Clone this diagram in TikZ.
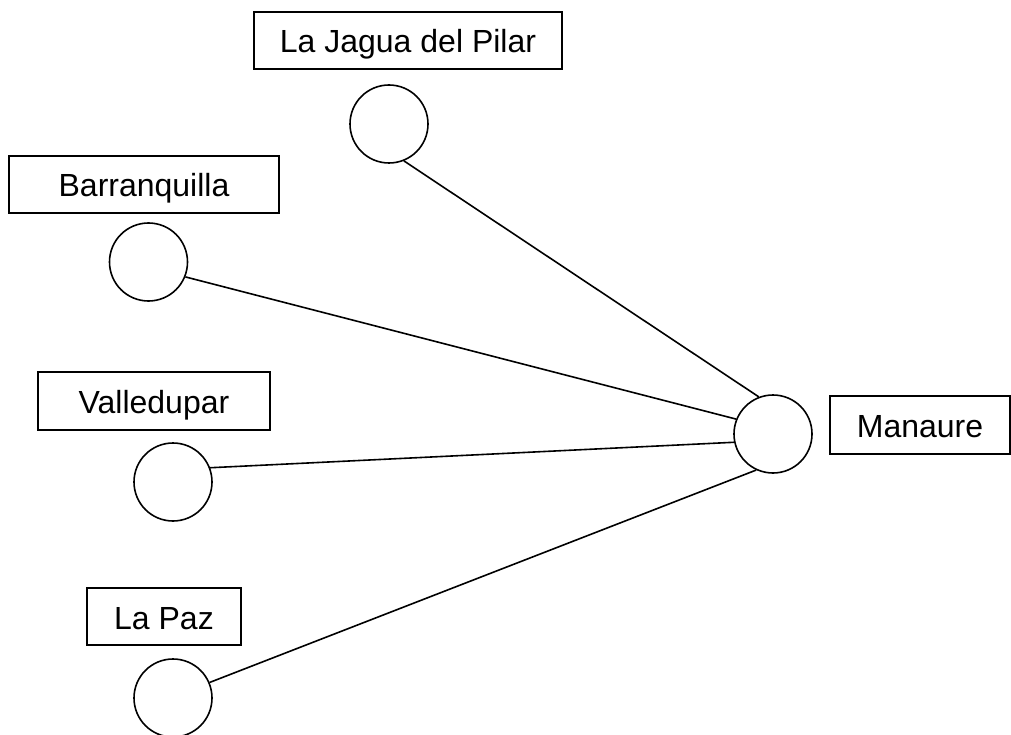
\documentclass[tikz,border=0pt]{standalone}
\usepackage{fontspec}
\setmainfont{Liberation Sans}
\begin{document}
\begin{tikzpicture}[x=1pt,y=-1pt,
  lbl/.style={draw,line width=1.6pt,inner sep=0pt,text height=25pt,text depth=0pt,font=\fontsize{32}{36}\selectfont},
  dot/.style={draw,circle,line width=1.6pt,minimum size=78pt,inner sep=0pt},
  link/.style={line width=1.6pt}]
\useasboundingbox (0,0) rectangle (1011,735);
\node[lbl,minimum width=308pt,minimum height=57pt] (tjag) at (408,40.5) {La Jagua del Pilar};
\node[lbl,minimum width=270pt,minimum height=57pt] (tbar) at (144,184.5) {Barranquilla};
\node[lbl,minimum width=232pt,minimum height=58pt] (tval) at (154,401) {Valledupar};
\node[lbl,minimum width=154pt,minimum height=57pt] (tpaz) at (164,616.5) {La Paz};
\node[lbl,minimum width=180pt,minimum height=58pt] (tman) at (920,425) {Manaure};
\node[dot] (jag) at (389,124) {};
\node[dot] (bar) at (148.5,262) {};
\node[dot] (val) at (173,482) {};
\node[dot] (paz) at (173,698) {};
\node[dot] (man) at (773,434) {};
\draw[link] (jag.-68) -- (man.111);
\draw[link] (bar.-22) -- (man.158);
\draw[link] (val.21) -- (man.192);
\draw[link] (paz.23) -- (man.245);
\end{tikzpicture}
\end{document}
